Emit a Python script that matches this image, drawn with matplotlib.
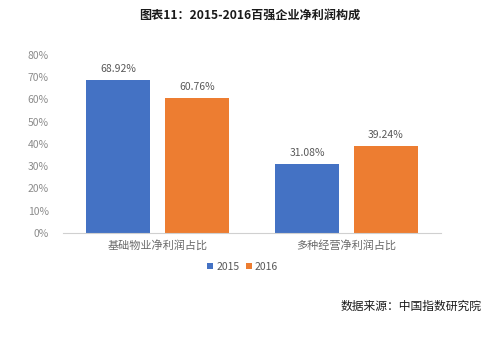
import numpy as np
import matplotlib.pyplot as plt

plt.rcParams['font.family'] = ['Noto Sans CJK SC', 'DejaVu Sans']

categories = ['基础物业净利润占比', '多种经营净利润占比']
years = ['2015', '2016']
share_2015 = [68.92, 31.08]
share_2016 = [60.76, 39.24]

colors = ['#4472C4', '#ED7D31']
width = 0.34
x = np.arange(len(categories))

fig = plt.figure(figsize=(4.95, 3.43), dpi=100)
ax = fig.add_axes([0.127, 0.3207, 0.764, 0.519])

bars = []
for i, (vals, c) in enumerate(zip([share_2015, share_2016], colors)):
    offset = (i - 0.5) * 0.418
    b = ax.bar(x + offset, vals, width, color=c, label=years[i])
    bars.append(b)
    for rect, v in zip(b, vals):
        ax.text(rect.get_x() + rect.get_width() / 2, v + 2.4, '%.2f%%' % v,
                ha='center', va='bottom', fontsize=7.5, color='#595959')

ax.set_xlim(-0.5, 1.5)
ax.set_ylim(0, 80)
ax.set_yticks(np.arange(0, 81, 10))
ax.set_yticklabels(['%d%%' % t for t in range(0, 81, 10)])
ax.set_xticks(x)
ax.set_xticklabels(categories)
ax.tick_params(axis='y', length=0, labelsize=7.5, labelcolor='#8c8c8c', pad=10)
ax.tick_params(axis='x', length=0, labelsize=8, labelcolor='#6a6a6a', pad=5)
for s in ['top', 'right', 'left']:
    ax.spines[s].set_visible(False)
ax.spines['bottom'].set_color('#d0d0d0')

fig.legend(handles=bars, labels=years, loc='center', bbox_to_anchor=(0.49, 0.222),
           ncol=2, frameon=False, fontsize=7.5, handlelength=0.6, handleheight=0.6,
           handletextpad=0.3, columnspacing=0.6, labelcolor='#595959')

fig.text(0.505, 0.956, '图表11：2015-2016百强企业净利润构成', ha='center', va='center',
         fontsize=8.7, fontweight='bold', color='#1a1a1a')
fig.text(0.972, 0.108, '数据来源：中国指数研究院', ha='right', va='center',
         fontsize=8.5, color='#1a1a1a')

fig.savefig('out.png', dpi=100)
